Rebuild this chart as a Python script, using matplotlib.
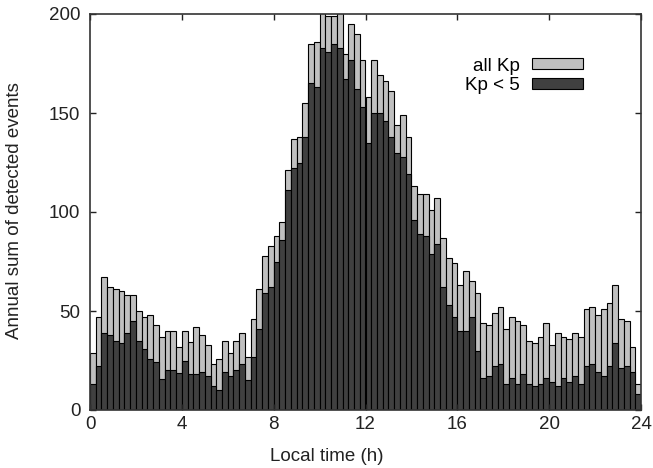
import numpy as np
import matplotlib
matplotlib.use("Agg")
import matplotlib.pyplot as plt

plt.rcParams['font.family'] = ['Liberation Sans', 'DejaVu Sans']

# -----------------------------
# Data: 15-minute local-time bins (96 bins over 24 h)
# -----------------------------
bin_width = 0.25
bin_start = np.arange(96) * bin_width

all_kp = [29, 47, 67, 62, 61, 60, 58, 58, 50, 47, 48, 43, 37, 40, 40, 32,
          40, 34.5, 42, 38, 33, 23, 26, 35, 29, 35, 39, 27, 46, 61, 78, 83,
          88, 95, 121, 137, 138, 155, 185, 186, 210, 199, 199, 212, 180, 195, 190, 177,
          158, 177, 169, 166, 161, 144, 149, 138, 113, 109, 109, 101, 107, 87, 77, 74,
          63, 70, 65, 59, 44, 43, 49, 52, 41, 47, 45, 43, 35, 34, 37, 44,
          33, 39, 37, 36, 39, 37, 51, 52, 48, 51, 54, 63, 46, 45, 32, 13]

kp_lt5 = [13, 22, 39, 38, 35, 34, 39, 45, 35, 31, 26, 24, 15.5, 20, 20, 18.7,
          25, 18, 18, 19, 17, 12, 10, 19, 17, 20, 23, 15, 27, 41, 59, 62,
          75, 86, 111, 122, 125, 138, 165, 163, 183, 181, 185, 183, 167, 177, 162, 153,
          135, 150, 150, 146, 138, 130, 128, 119, 96, 89, 88, 79, 84, 62, 53, 47,
          40, 40, 47, 30, 16, 17, 22, 23, 13, 16, 13, 18, 13, 12, 13, 16,
          14, 12, 16, 14, 17, 13, 22, 23, 19, 17, 22, 34, 21, 22, 19, 8]

x_ticks = [0, 4, 8, 12, 16, 20, 24]
y_ticks = [0, 50, 100, 150, 200]

# -----------------------------
# Plot
# -----------------------------
fs = 13.5
fig = plt.figure(figsize=(6.53, 4.68), dpi=100)
ax = fig.add_axes([90 / 653, 58 / 468, 551 / 653, 396 / 468])

ax.bar(bin_start, all_kp, width=bin_width, align="edge", color="#c0c0c0",
       edgecolor="black", linewidth=0.8, label="all Kp")
ax.bar(bin_start, kp_lt5, width=bin_width, align="edge", color="#404040",
       edgecolor="black", linewidth=0.8, label="Kp < 5")

ax.set_xlim(0, 24)
ax.set_ylim(0, 200)
ax.set_xticks(x_ticks)
ax.set_yticks(y_ticks)
ax.tick_params(direction="in", top=True, right=True, length=4, width=1,
               labelsize=fs, colors="#222222")
ax.tick_params(axis="x", pad=4)
ax.tick_params(axis="y", pad=7)
for sp in ax.spines.values():
    sp.set_linewidth(1.2)
    sp.set_color("#333333")
    sp.set_zorder(5)

ax.legend(loc="upper right", bbox_to_anchor=(0.895, 0.89), frameon=False,
          markerfirst=False, fontsize=fs, handlelength=2.75, handleheight=0.53,
          handletextpad=0.62, labelspacing=0.12, borderpad=0, borderaxespad=0)

fig.text(0.5, 0.024, "Local time (h)", ha="center", va="center", fontsize=fs,
         color="#222222")
fig.text(15 / 653, (468 - 211) / 468, "Annual sum of detected events",
         rotation=90, ha="center", va="center", fontsize=fs, color="#222222")

fig.savefig("out.png", dpi=100)
